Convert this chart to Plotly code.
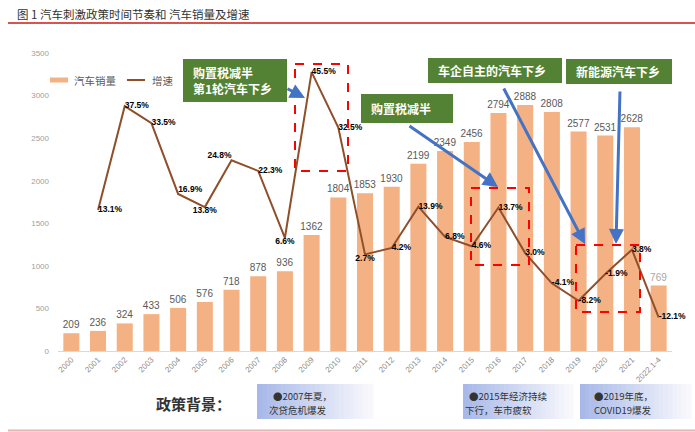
import plotly.graph_objects as go

# ---------------- data ----------------
years = ["2000", "2001", "2002", "2003", "2004", "2005", "2006", "2007", "2008", "2009",
         "2010", "2011", "2012", "2013", "2014", "2015", "2016", "2017", "2018", "2019",
         "2020", "2021", "2022.1-4"]
sales = [209, 236, 324, 433, 506, 576, 718, 878, 936, 1362, 1804, 1853, 1930, 2199, 2349,
         2456, 2794, 2888, 2808, 2577, 2531, 2628, 769]
growth = [None, 13.1, 37.5, 33.5, 16.9, 13.8, 24.8, 22.3, 6.6, 45.5, 32.5, 2.7, 4.2, 13.9,
          6.8, 4.6, 13.7, 3.0, -4.1, -8.2, -1.9, 3.8, -12.1]
growth_pos = ["middle right", "middle right", "middle right", "middle right", "top right",
              "bottom center", "top left", "middle right", "bottom center", "middle right",
              "middle right", "bottom center", "middle right", "middle right", "middle right",
              "middle right", "middle right", "middle right", "middle right", "middle right",
              "middle right", "middle right", "middle right"]
series_names = ["汽车销量", "增速"]
policy_boxes = [["购置税减半", "第1轮汽车下乡"], ["购置税减半"], ["车企自主的汽车下乡"], ["新能源汽车下乡"]]
background_notes = [["●2007年夏，", "次贷危机爆发"], ["●2015年经济持续", "下行，车市疲软"],
                    ["●2019年底，", "COVID19爆发"]]
title_text = "图 1 汽车刺激政策时间节奏和 汽车销量及增速"

# ---------------- style / geometry ----------------
W, H = 695, 432
L, R, T, B = 58, 672, 53, 351
BAR_C = "#F4B183"
LINE_C = "#8E4F2A"
GREEN = "#548235"
ARROW_C = "#4472C4"
CJK = "Noto Sans CJK SC, Noto Sans, sans-serif"
NUM = "Liberation Sans, Arial, sans-serif"


def px(x):
    return (x - L) / (R - L)


def py(y):
    return (B - y) / (B - T)


fig = go.Figure()

bar_text_colors = ["#595959"] * (len(sales) - 1) + ["#A6A6A6"]
fig.add_trace(go.Bar(
    x=years, y=sales, name=series_names[0], marker=dict(color=BAR_C, line=dict(width=0)),
    text=[str(v) for v in sales], textposition="outside", cliponaxis=False,
    constraintext="none",
    textfont=dict(size=10, color=bar_text_colors, family=NUM), showlegend=False,
))
fig.add_trace(go.Scatter(
    x=years, y=growth, yaxis="y2", mode="lines+text", name=series_names[1],
    line=dict(color=LINE_C, width=2), connectgaps=False,
    text=["" if g is None else f"{g:.1f}%" for g in growth],
    textposition=growth_pos, cliponaxis=False,
    textfont=dict(size=8.5, color="#000000", family="Liberation Sans Narrow, " + NUM, weight="bold"),
    showlegend=False,
))

shapes = []
annotations = []

# manual legend with short line swatches
for (x0, x1, tx), name, col, wd in zip([(50, 68, 72), (127, 145, 150)], series_names,
                                       [BAR_C, LINE_C], [5, 2]):
    shapes.append(dict(type="line", xref="paper", yref="paper", x0=px(x0), x1=px(x1),
                       y0=py(80), y1=py(80), line=dict(color=col, width=wd)))
    annotations.append(dict(xref="paper", yref="paper", x=px(tx), y=py(80), xanchor="left",
                            yanchor="middle", text=name, showarrow=False,
                            font=dict(family=CJK, size=10.5, color="#595959")))

# title and its red rule
annotations.append(dict(xref="paper", yref="paper", x=px(15), y=py(14), xanchor="left",
                        yanchor="middle", text=title_text, showarrow=False,
                        font=dict(family=CJK, size=11.5, color="#333333")))
shapes.append(dict(type="line", xref="paper", yref="paper", x0=px(8), x1=px(695),
                   y0=py(23), y1=py(23), line=dict(color="#D9534F", width=2)))
# bottom rule
shapes.append(dict(type="line", xref="paper", yref="paper", x0=px(8), x1=px(695),
                   y0=py(430.5), y1=py(430.5), line=dict(color="#E2B4B4", width=2)))

# red dashed highlight boxes
for (x0, y0, x1, y1) in [(295, 64, 348, 171), (471, 188, 529, 265), (576, 245, 640, 312)]:
    shapes.append(dict(type="rect", xref="paper", yref="paper", x0=px(x0), x1=px(x1),
                       y0=py(y0), y1=py(y1), line=dict(color="#FF0000", width=2, dash="dash"),
                       fillcolor="rgba(0,0,0,0)"))

# green policy boxes
green_geo = [(183, 59, 287, 102), (361, 94, 453, 123), (428, 58, 562, 83), (566, 59, 672, 84)]
for (x0, y0, x1, y1), lines in zip(green_geo, policy_boxes):
    shapes.append(dict(type="rect", xref="paper", yref="paper", x0=px(x0), x1=px(x1),
                       y0=py(y0), y1=py(y1), line=dict(width=0), fillcolor=GREEN))
    annotations.append(dict(xref="paper", yref="paper", x=px(x0 + 8), y=py((y0 + y1) / 2),
                            xanchor="left", yanchor="middle", align="left",
                            text="<br>".join(f"<b>{t}</b>" for t in lines),
                            showarrow=False, font=dict(family=CJK, size=12, color="white")))

# blue arrows (tail -> head)
for (tx, ty, hx, hy) in [(286, 88, 305, 98), (408, 125, 498, 187), (503, 87, 585, 244),
                         (620, 90, 616, 244)]:
    annotations.append(dict(xref="paper", yref="paper", x=px(hx), y=py(hy),
                            ax=tx - hx, ay=ty - hy, axref="pixel", ayref="pixel",
                            text="", showarrow=True, arrowhead=2, arrowsize=1,
                            arrowwidth=3, arrowcolor=ARROW_C, standoff=0))

# bottom policy background label and gradient note boxes
annotations.append(dict(xref="paper", yref="paper", x=px(233), y=py(403), xanchor="right",
                        yanchor="middle", text="<b>政策背景：</b>", showarrow=False,
                        font=dict(family=CJK, size=15, color="#333333")))


def lerp(c0, c1, t):
    return tuple(int(round(a + (b - a) * t)) for a, b in zip(c0, c1))


left_c = (168, 185, 233)
right_c = (248, 248, 252)
note_geo = [(257, 384, 373, 419), (463, 384, 573, 419), (580, 384, 691, 419)]
note_offsets = [(15, 11), (5, 1), (13, 13)]
for (x0, y0, x1, y1), (o1, o2), lines in zip(note_geo, note_offsets, background_notes):
    n = 24
    w = (x1 - x0) / n
    for k in range(n):
        c = lerp(left_c, right_c, k / (n - 1))
        shapes.append(dict(type="rect", xref="paper", yref="paper", layer="below",
                           x0=px(x0 + k * w), x1=px(x0 + (k + 1) * w + 0.6),
                           y0=py(y0), y1=py(y1), line=dict(width=0),
                           fillcolor=f"rgb{c}"))
    for t, off, ly in zip(lines, (o1, o2), (395.5, 409.5)):
        annotations.append(dict(xref="paper", yref="paper", x=px(x0 + off), y=py(ly),
                                xanchor="left", yanchor="middle", text=t, showarrow=False,
                                borderpad=0,
                                font=dict(family=CJK, size=9.5, color="#333333")))

fig.update_layout(
    width=W, height=H,
    margin=dict(l=L, r=W - R, t=T, b=H - B, autoexpand=False),
    paper_bgcolor="white", plot_bgcolor="white",
    bargap=0.4,
    showlegend=False,
    font=dict(family=CJK, color="#595959"),
    xaxis=dict(type="category", range=[-0.5, len(years) - 0.5], tickangle=-45,
               tickfont=dict(size=8, color="#8C8C8C", family=NUM),
               showline=True, linecolor="#D9D9D9", linewidth=1, ticks="",
               showgrid=False, zeroline=False),
    yaxis=dict(range=[0, 3500], tickvals=[0, 500, 1000, 1500, 2000, 2500, 3000, 3500],
               tickfont=dict(size=8, color="#A0A0A0", family=NUM),
               showgrid=False, zeroline=False, showline=False, ticks="", ticklabelstandoff=8),
    yaxis2=dict(range=[-20, 50], overlaying="y", side="right", visible=False,
                showgrid=False, zeroline=False),
    shapes=shapes, annotations=annotations,
)

fig.write_html("out.html", config={"displayModeBar": False},
               post_script="document.body.style.margin='0';document.body.style.overflow='hidden';")
